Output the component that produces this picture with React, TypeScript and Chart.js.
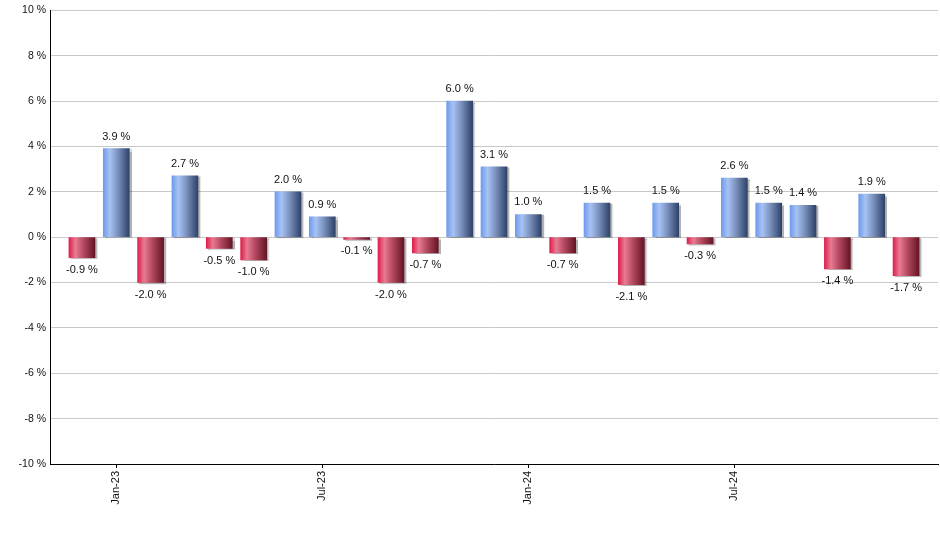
import React, { useEffect, useRef } from "react";
import { Chart, registerables } from "chart.js";

Chart.register(...registerables);

const months = [
  "Dec-22", "Jan-23", "Feb-23", "Mar-23", "Apr-23", "May-23", "Jun-23", "Jul-23", "Aug-23", "Sep-23",
  "Oct-23", "Nov-23", "Dec-23", "Jan-24", "Feb-24", "Mar-24", "Apr-24", "May-24", "Jun-24", "Jul-24",
  "Aug-24", "Sep-24", "Oct-24", "Nov-24", "Dec-24",
];
const values = [
  -0.9, 3.9, -2.0, 2.7, -0.5, -1.0, 2.0, 0.9, -0.1, -2.0,
  -0.7, 6.0, 3.1, 1.0, -0.7, 1.5, -2.1, 1.5, -0.3, 2.6,
  1.5, 1.4, -1.4, 1.9, -1.7,
];
const tickIndices = [1, 7, 13, 19];
const yTicks = [-10, -8, -6, -4, -2, 0, 2, 4, 6, 8, 10];

const FONT = "'Liberation Sans', Arial, sans-serif";
const BAR_W = 26;

function barGradient(ctx: any) {
  const chart = ctx.chart;
  const v = values[ctx.dataIndex] ?? 0;
  const fallback = v >= 0 ? "#6f9bec" : "#de1f4b";
  if (ctx.type !== "data" || !chart.scales || !chart.scales.x) return fallback;
  const px = chart.scales.x.getPixelForValue(ctx.dataIndex);
  if (!Number.isFinite(px)) return fallback;
  const g = chart.ctx.createLinearGradient(px - BAR_W / 2, 0, px + BAR_W / 2, 0);
  if (v >= 0) {
    g.addColorStop(0, "#6f9bec");
    g.addColorStop(0.25, "#a7c2f4");
    g.addColorStop(0.55, "#7c93bf");
    g.addColorStop(1, "#2e4269");
  } else {
    g.addColorStop(0, "#de1f4b");
    g.addColorStop(0.25, "#e87b92");
    g.addColorStop(0.55, "#b54a62");
    g.addColorStop(1, "#651425");
  }
  return g;
}

const shadowPlugin = {
  id: "barShadow",
  beforeDatasetsDraw(chart: any) {
    const c = chart.ctx;
    c.save();
    c.shadowColor = "rgba(0,0,0,0.3)";
    c.shadowOffsetX = 2;
    c.shadowOffsetY = 1;
    c.shadowBlur = 1;
  },
  afterDatasetsDraw(chart: any) {
    const c = chart.ctx;
    c.restore();
    const meta = chart.getDatasetMeta(0);
    c.save();
    c.font = `11px ${FONT}`;
    c.fillStyle = "#111";
    c.textAlign = "center";
    c.textBaseline = "middle";
    meta.data.forEach((el: any, i: number) => {
      const v = values[i];
      const txt = v.toFixed(1) + " %";
      const y = v >= 0 ? el.y - 12 : el.y + 12;
      c.fillText(txt, el.x, y);
    });
    c.restore();
  },
};

export default function App() {
  const ref = useRef<HTMLCanvasElement | null>(null);
  useEffect(() => {
    if (!ref.current) return;
    const chart = new Chart(ref.current, {
      type: "bar",
      data: {
        datasets: [
          {
            data: values.map((v, i) => ({ x: i, y: v })),
            backgroundColor: barGradient as any,
            borderWidth: 0,
            barThickness: BAR_W,
          },
        ],
      },
      options: {
        responsive: false,
        animation: false,
        layout: { padding: { top: 10, right: 2, left: 0, bottom: 0 } },
        plugins: { legend: { display: false }, tooltip: { enabled: false } },
        scales: {
          x: {
            type: "linear",
            min: -0.93,
            max: 24.93,
            offset: false,
            afterBuildTicks: (scale: any) => {
              scale.ticks = tickIndices.map((v) => ({ value: v }));
            },
            afterFit: (scale: any) => {
              scale.height = 86;
            },
            ticks: {
              autoSkip: false,
              minRotation: 90,
              maxRotation: 90,
              padding: 3,
              color: "#111",
              font: { family: FONT, size: 11 },
              callback: (v: any) => months[Math.round(Number(v))] ?? "",
            },
            grid: {
              offset: false,
              drawOnChartArea: false,
              drawTicks: true,
              tickLength: 4,
              color: "#000",
            },
            border: { display: true, color: "#000", width: 1 },
          },
          y: {
            min: -10,
            max: 10,
            afterBuildTicks: (scale: any) => {
              scale.ticks = yTicks.map((v) => ({ value: v }));
            },
            afterFit: (scale: any) => {
              scale.width = 50;
            },
            ticks: {
              padding: 4,
              color: "#111",
              font: { family: FONT, size: 10.5 },
              callback: (v: any) => `${v} %`,
            },
            grid: { color: "#c8c8c8", drawTicks: false, lineWidth: 1 },
            border: { display: true, color: "#000", width: 1 },
          },
        },
      },
      plugins: [shadowPlugin],
    });
    return () => chart.destroy();
  }, []);
  return (
    <div style={{ position: "absolute", left: 0, top: 0, width: 940, height: 550, background: "#fff" }}>
      <canvas ref={ref} width={940} height={550} style={{ display: "block" }} />
    </div>
  );
}
